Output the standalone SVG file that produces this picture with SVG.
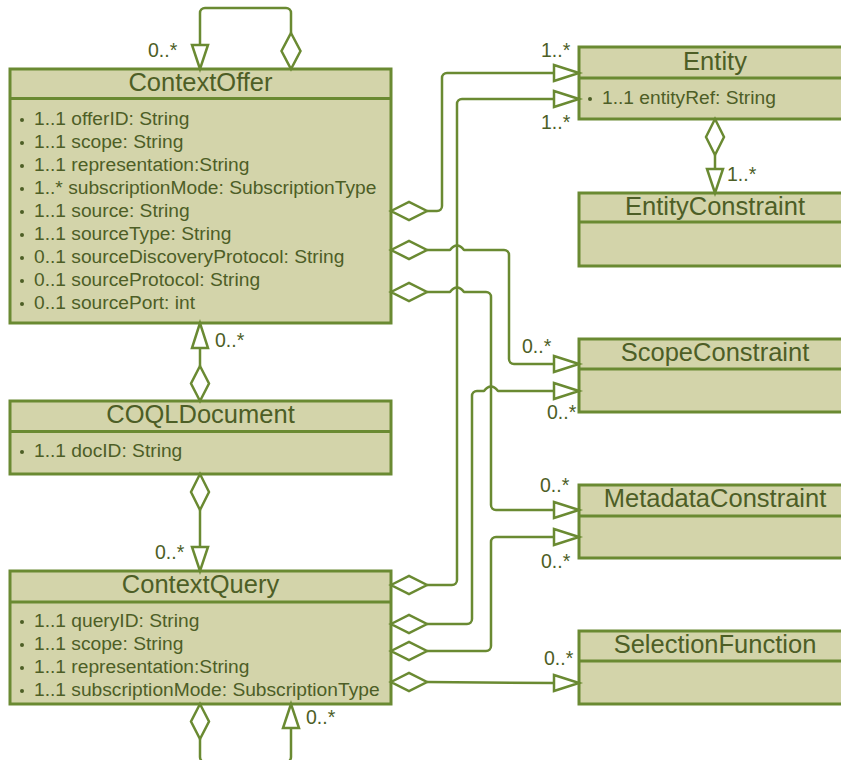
<svg xmlns="http://www.w3.org/2000/svg" width="841" height="760" viewBox="0 0 841 760">
  <style>
    .box { fill: #d3d4aa; stroke: #6a8a32; stroke-width: 3; }
    .sep { stroke: #6a8a32; stroke-width: 3; }
    .title { font-family: "Liberation Sans", Arial, sans-serif; font-size: 25.5px; fill: #4d5e26; text-anchor: middle; }
    .attr { font-family: "Liberation Sans", Arial, sans-serif; font-size: 19.2px; fill: #4d5e26; }
    .mult { font-family: "Liberation Sans", Arial, sans-serif; font-size: 19.5px; fill: #4d5e26; }
    .dot { fill: #4d5e26; }
    .line { fill: none; stroke: #6a8a32; stroke-width: 2.5; stroke-linejoin: round; }
    .head { fill: #ffffff; stroke: #6a8a32; stroke-width: 2.5; stroke-linejoin: miter; }
  </style>

  <rect width="841" height="760" fill="#ffffff"/>

  <!-- classes -->
  <g id="ContextOffer">
    <rect class="box" x="10" y="69" width="381" height="254"/>
    <line class="sep" x1="10" y1="98.5" x2="391" y2="98.5"/>
    <text class="title" x="200.5" y="91">ContextOffer</text>
    <g class="dot">
      <circle cx="22" cy="120" r="2"/><circle cx="22" cy="143" r="2"/><circle cx="22" cy="166" r="2"/>
      <circle cx="22" cy="189" r="2"/><circle cx="22" cy="212" r="2"/><circle cx="22" cy="235" r="2"/>
      <circle cx="22" cy="258" r="2"/><circle cx="22" cy="281" r="2"/><circle cx="22" cy="304" r="2"/>
    </g>
    <text class="attr" x="34" y="125">1..1 offerID: String</text>
    <text class="attr" x="34" y="148">1..1 scope: String</text>
    <text class="attr" x="34" y="171">1..1 representation:String</text>
    <text class="attr" x="34" y="194">1..* subscriptionMode: SubscriptionType</text>
    <text class="attr" x="34" y="217">1..1 source: String</text>
    <text class="attr" x="34" y="240">1..1 sourceType: String</text>
    <text class="attr" x="34" y="263">0..1 sourceDiscoveryProtocol: String</text>
    <text class="attr" x="34" y="286">0..1 sourceProtocol: String</text>
    <text class="attr" x="34" y="309">0..1 sourcePort: int</text>
  </g>

  <g id="COQLDocument">
    <rect class="box" x="10" y="401" width="381" height="73"/>
    <line class="sep" x1="10" y1="431.5" x2="391" y2="431.5"/>
    <text class="title" x="200.5" y="423">COQLDocument</text>
    <circle class="dot" cx="22" cy="452" r="2"/>
    <text class="attr" x="34" y="457">1..1 docID: String</text>
  </g>

  <g id="ContextQuery">
    <rect class="box" x="10" y="571" width="381" height="133"/>
    <line class="sep" x1="10" y1="602" x2="391" y2="602"/>
    <text class="title" x="200.5" y="593">ContextQuery</text>
    <g class="dot">
      <circle cx="22" cy="622" r="2"/><circle cx="22" cy="645" r="2"/>
      <circle cx="22" cy="668" r="2"/><circle cx="22" cy="691" r="2"/>
    </g>
    <text class="attr" x="34" y="627">1..1 queryID: String</text>
    <text class="attr" x="34" y="650">1..1 scope: String</text>
    <text class="attr" x="34" y="673">1..1 representation:String</text>
    <text class="attr" x="34" y="696">1..1 subscriptionMode: SubscriptionType</text>
  </g>

  <g id="Entity">
    <rect class="box" x="579" y="47" width="272" height="72"/>
    <line class="sep" x1="579" y1="78" x2="851" y2="78"/>
    <text class="title" x="715" y="70">Entity</text>
    <circle class="dot" cx="590" cy="99" r="2"/>
    <text class="attr" x="602" y="104">1..1 entityRef: String</text>
  </g>

  <g id="EntityConstraint">
    <rect class="box" x="579" y="193" width="272" height="73"/>
    <line class="sep" x1="579" y1="222" x2="851" y2="222"/>
    <text class="title" x="715" y="215">EntityConstraint</text>
  </g>

  <g id="ScopeConstraint">
    <rect class="box" x="579" y="339" width="272" height="73"/>
    <line class="sep" x1="579" y1="369" x2="851" y2="369"/>
    <text class="title" x="715" y="361">ScopeConstraint</text>
  </g>

  <g id="MetadataConstraint">
    <rect class="box" x="579" y="485" width="272" height="73"/>
    <line class="sep" x1="579" y1="516" x2="851" y2="516"/>
    <text class="title" x="715" y="507">MetadataConstraint</text>
  </g>

  <g id="SelectionFunction">
    <rect class="box" x="579" y="631" width="272" height="73"/>
    <line class="sep" x1="579" y1="661" x2="851" y2="661"/>
    <text class="title" x="715" y="653">SelectionFunction</text>
  </g>

  <!-- aggregations: white diamond at the owner, open triangle at the part -->
  <g id="connectors">
    <!-- ContextOffer self association -->
    <path class="line" d="M200,45 V13 A5,5 0 0 1 205,8 H286 A5,5 0 0 1 291,13 V33"/>
    <polygon class="head" points="291,33 300.5,51 291,69 281.5,51"/>
    <polygon class="head" points="200,69 192,45 208,45"/>
    <text class="mult" x="148" y="57">0..*</text>

    <!-- ContextOffer to Entity -->
    <polygon class="head" points="391,211 409,202 427,211 409,220"/>
    <path class="line" d="M427,211 H437 A5,5 0 0 0 442,206 V78 A5,5 0 0 1 447,73 H554"/>
    <polygon class="head" points="579,73 554,65 554,81"/>
    <text class="mult" x="541" y="57">1..*</text>

    <!-- ContextQuery to Entity -->
    <polygon class="head" points="391,585 409,576 427,585 409,594"/>
    <path class="line" d="M427,585 H452 A5,5 0 0 0 457,580 V104 A5,5 0 0 1 462,99 H554"/>
    <polygon class="head" points="579,99 554,91 554,107"/>
    <text class="mult" x="541" y="129">1..*</text>

    <!-- Entity to EntityConstraint -->
    <polygon class="head" points="715,119 724,137 715,155 706,137"/>
    <path class="line" d="M715,155 V169"/>
    <polygon class="head" points="715,193 707,169 723,169"/>
    <text class="mult" x="727" y="181">1..*</text>

    <!-- ContextOffer to ScopeConstraint -->
    <polygon class="head" points="391,250 409,241 427,250 409,259"/>
    <path class="line" d="M427,250 H450 Q457,241 464,250 H504 A5,5 0 0 1 509,255 V359 A5,5 0 0 0 514,364 H554"/>
    <polygon class="head" points="579,364 554,356 554,372"/>
    <text class="mult" x="522" y="353">0..*</text>

    <!-- ContextQuery to ScopeConstraint -->
    <polygon class="head" points="391,624 409,615 427,624 409,633"/>
    <path class="line" d="M427,624 H467 A5,5 0 0 0 472,619 V396 A5,5 0 0 1 477,391 H484 Q491,382 498,391 H554"/>
    <polygon class="head" points="579,391 554,383 554,399"/>
    <text class="mult" x="547" y="419">0..*</text>

    <!-- ContextOffer to MetadataConstraint -->
    <polygon class="head" points="391,292 409,283 427,292 409,301"/>
    <path class="line" d="M427,292 H450 Q457,283 464,292 H486 A5,5 0 0 1 491,297 V505 A5,5 0 0 0 496,510 H554"/>
    <polygon class="head" points="579,510 554,502 554,518"/>
    <text class="mult" x="540" y="492">0..*</text>

    <!-- ContextQuery to MetadataConstraint -->
    <polygon class="head" points="391,651 409,642 427,651 409,660"/>
    <path class="line" d="M427,651 H486 A5,5 0 0 0 491,646 V542 A5,5 0 0 1 496,537 H554"/>
    <polygon class="head" points="579,537 554,529 554,545"/>
    <text class="mult" x="541" y="568">0..*</text>

    <!-- ContextQuery to SelectionFunction -->
    <polygon class="head" points="391,682 409,673 427,682 409,691"/>
    <path class="line" d="M427,682 L554,683"/>
    <polygon class="head" points="579,683 554,675 554,691"/>
    <text class="mult" x="544" y="665">0..*</text>

    <!-- COQLDocument to ContextOffer -->
    <polygon class="head" points="200,366 209,383.5 200,401 191,383.5"/>
    <path class="line" d="M200,366 V348"/>
    <polygon class="head" points="200,323 192,348 208,348"/>
    <text class="mult" x="215" y="347">0..*</text>

    <!-- COQLDocument to ContextQuery -->
    <polygon class="head" points="200,474 209,492 200,510 191,492"/>
    <path class="line" d="M200,510 V547"/>
    <polygon class="head" points="200,571 192,547 208,547"/>
    <text class="mult" x="155" y="559">0..*</text>

    <!-- ContextQuery self association -->
    <polygon class="head" points="200,704 209,721.5 200,739 191,721.5"/>
    <path class="line" d="M200,739 V757 A5,5 0 0 0 205,762 H286 A5,5 0 0 0 291,757 V728"/>
    <polygon class="head" points="291,704 283,728 299,728"/>
    <text class="mult" x="306" y="724">0..*</text>
  </g>
</svg>
